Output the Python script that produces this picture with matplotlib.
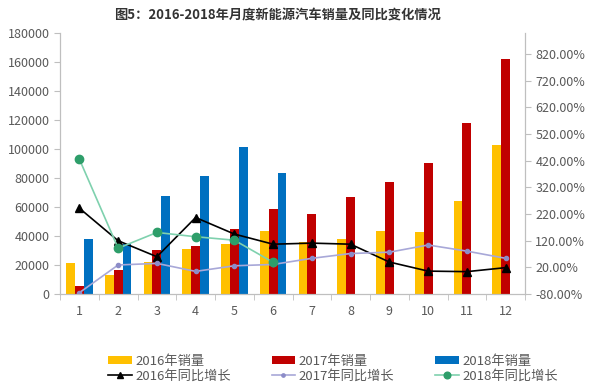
import matplotlib
matplotlib.use('Agg')
import matplotlib.pyplot as plt
import numpy as np

plt.rcParams['font.family'] = ['Noto Sans CJK SC', 'DejaVu Sans']

# Data
months = [1, 2, 3, 4, 5, 6, 7, 8, 9, 10, 11, 12]
sales_2016 = [21100, 13100, 22000, 31000, 34400, 43400, 35600, 37600, 43100, 43000, 64000, 103000]
sales_2017 = [5500, 16500, 30300, 33300, 44500, 58300, 55000, 67000, 76900, 90000, 117900, 161700]
sales_2018 = [38100, 34400, 67800, 81500, 101400, 83500]
yoy_2016 = [242, 120, 60, 207, 145, 107, 111, 107, 40, 6, 4, 19]
yoy_2017 = [-75, 29, 35, 5, 26, 31, 54, 72, 77, 104, 81, 54]
yoy_2018 = [426, 92, 151, 135, 122, 39]

YELLOW = '#FFC000'
RED = '#C00000'
BLUE = '#0070C0'
TICK_C = '#595959'
SPINE_C = '#BFBFBF'

fig = plt.figure(figsize=(6, 3.91), dpi=100)
fig.patch.set_facecolor('white')
ax = fig.add_axes([0.1, 0.248, 0.775, 0.668])
ax2 = ax.twinx()

x = np.array(months)
w = 0.23
b16 = ax.bar(x - w, sales_2016, w, color=YELLOW, label='2016年销量')
b17 = ax.bar(x, sales_2017, w, color=RED, label='2017年销量')
b18 = ax.bar(x[:len(sales_2018)] + w, sales_2018, w, color=BLUE, label='2018年销量')

l16, = ax2.plot(x, yoy_2016, color='black', lw=1.2, marker='^', ms=6,
                label='2016年同比增长')
l17, = ax2.plot(x, yoy_2017, color='#A8A8D8', lw=1.2, marker='o', ms=3,
                mfc='#8C8CC8', mec='#8C8CC8', label='2017年同比增长')
l18, = ax2.plot(x[:len(yoy_2018)], yoy_2018, color='#7FD1AE', lw=1.2, marker='o',
                ms=6, mfc='#2E9E6A', mec='#2E9E6A', label='2018年同比增长')

ax.set_xlim(0.5, 12.5)
ax.set_ylim(0, 180000)
ax.set_yticks(np.arange(0, 180001, 20000))
ax2.set_ylim(-80, 900)
ax2.set_yticks(np.arange(-80, 821, 100))
ax2.set_yticklabels(['%.2f%%' % v for v in np.arange(-80, 821, 100)])

ax.set_xticks(months)
ax.set_xticks(np.arange(0.5, 12.6, 1), minor=True)
ax.tick_params(axis='x', which='major', length=0, pad=8, labelsize=9, labelcolor=TICK_C)
ax.tick_params(axis='x', which='minor', length=4, color=SPINE_C)
ax.tick_params(axis='y', length=4, color=SPINE_C, labelsize=9, labelcolor=TICK_C)
ax2.tick_params(axis='y', length=4, color=SPINE_C, labelsize=9, labelcolor=TICK_C)

for a in (ax, ax2):
    a.spines['top'].set_visible(False)
    for s in ('left', 'right', 'bottom'):
        a.spines[s].set_color(SPINE_C)

fig.text(277 / 600, 1 - 15 / 391, '图5：2016-2018年月度新能源汽车销量及同比变化情况',
         ha='center', va='center', fontsize=9.5, fontweight='bold', color='#333333')

handles = [b16, l16, b17, l17, b18, l18]
fig.legend(handles=handles, labels=[h.get_label() for h in handles], ncol=3,
           loc='upper left', bbox_to_anchor=(108 / 600, 1 - 355 / 391),
           frameon=False, fontsize=9.5, handlelength=1.8, handleheight=0.55,
           handletextpad=0.25, columnspacing=3.1, labelspacing=0.1,
           borderpad=0, borderaxespad=0, numpoints=1, markerscale=0.8,
           labelcolor=TICK_C)

fig.savefig('out.png', dpi=100, facecolor='white')
